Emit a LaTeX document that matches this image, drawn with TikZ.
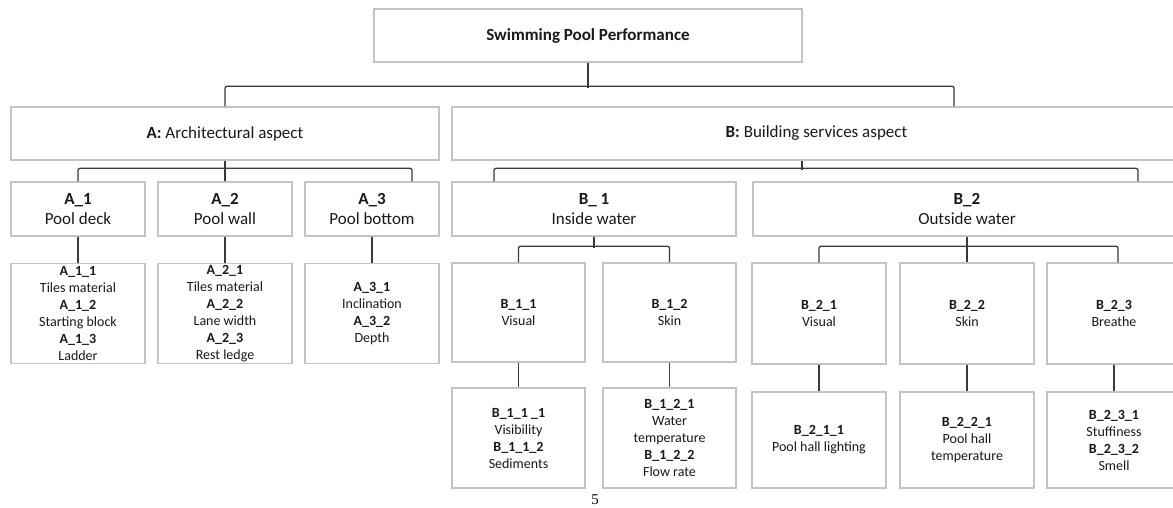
\documentclass[tikz,border=0pt]{standalone}
\usepackage{fontspec}
\setmainfont{Carlito}
\newfontfamily\numfont{Liberation Serif}
\usepackage{tikz}

\definecolor{boxgray}{HTML}{C4C4C4}
\definecolor{linkgray}{HTML}{3A3A3A}

\tikzset{
    box/.style={draw=boxgray, line width=1.4pt, inner sep=0pt, align=center, text=black!90},
    big/.style={box, font=\fontsize{17}{20}\selectfont},
    small/.style={box, font=\fontsize{14}{17}\selectfont},
    link/.style={draw=linkgray, line width=1.3pt, rounded corners=2pt},
}

\begin{document}
\begin{tikzpicture}[x=1pt, y=-1pt]
    \useasboundingbox (0,0) rectangle (1173,507);
    \fill[white] (0,0) rectangle (1173,507);
    \clip (0,0) rectangle (1173,507);

    % top
    \node[big, minimum width=428pt, minimum height=53pt] (root) at (588,35.5) {\textbf{Swimming Pool Performance}};

    % aspects
    \node[big, minimum width=428pt, minimum height=53pt] (A) at (225,133.5) {\textbf{A:} Architectural aspect};
    \node[big, minimum width=729pt, minimum height=53pt] (B) at (816.5,133.5) {\textbf{B:} Building services aspect};

    % A parts
    \node[big, minimum width=134pt, minimum height=54pt] (A1) at (78,209) {\textbf{A\_1}\\Pool deck};
    \node[big, minimum width=134pt, minimum height=54pt] (A2) at (225,209) {\textbf{A\_2}\\Pool wall};
    \node[big, minimum width=134pt, minimum height=54pt] (A3) at (372,209) {\textbf{A\_3}\\Pool bottom};

    % B parts
    \node[big, minimum width=284pt, minimum height=54pt] (B1) at (594,209) {\textbf{B\_ 1}\\Inside water};
    \node[big, minimum width=428pt, minimum height=54pt] (B2) at (967,209) {\textbf{B\_2}\\Outside water};

    % A items
    \node[small, minimum width=134pt, minimum height=100pt] (A11) at (78,313.5)
        {\textbf{A\_1\_1}\\Tiles material\\\textbf{A\_1\_2}\\Starting block\\\textbf{A\_1\_3}\\Ladder};
    \node[small, minimum width=134pt, minimum height=100pt] (A21) at (225,313.5)
        {\textbf{A\_2\_1}\\Tiles material\\\textbf{A\_2\_2}\\Lane width\\\textbf{A\_2\_3}\\Rest ledge};
    \node[small, minimum width=134pt, minimum height=100pt] (A31) at (372,313.5)
        {\textbf{A\_3\_1}\\Inclination\\\textbf{A\_3\_2}\\Depth};

    % B senses
    \node[small, minimum width=133pt, minimum height=99pt] (B11) at (518.5,312.5) {\textbf{B\_1\_1}\\Visual};
    \node[small, minimum width=133pt, minimum height=99pt] (B12) at (669.5,312.5) {\textbf{B\_1\_2}\\Skin};
    \node[small, minimum width=134pt, minimum height=101pt] (B21) at (819,313.5) {\textbf{B\_2\_1}\\Visual};
    \node[small, minimum width=134pt, minimum height=101pt] (B22) at (967,313.5) {\textbf{B\_2\_2}\\Skin};
    \node[small, minimum width=134pt, minimum height=101pt] (B23) at (1114,313.5) {\textbf{B\_2\_3}\\Breathe};

    % B items
    \node[small, minimum width=133pt, minimum height=100pt] (B111) at (518.5,438)
        {\textbf{B\_1\_1 \_1}\\Visibility\\\textbf{B\_1\_1\_2}\\Sediments};
    \node[small, minimum width=133pt, minimum height=100pt] (B121) at (669.5,438)
        {\textbf{B\_1\_2\_1}\\Water\\temperature\\\textbf{B\_1\_2\_2}\\Flow rate};
    \node[small, minimum width=134pt, minimum height=96pt] (B211) at (819,440)
        {\textbf{B\_2\_1\_1}\\Pool hall lighting};
    \node[small, minimum width=134pt, minimum height=96pt] (B221) at (967,440)
        {\textbf{B\_2\_2\_1}\\Pool hall\\temperature};
    \node[small, minimum width=134pt, minimum height=96pt] (B231) at (1114,440)
        {\textbf{B\_2\_3\_1}\\Stuffiness\\\textbf{B\_2\_3\_2}\\Smell};

    \node[font=\numfont\fontsize{15}{18}\selectfont] (pagenum) at (595,500) {5};

    % links
    \draw[link] (root.south) -- ++(0,25);
    \draw[link] (A.north) -- ++(0,-20) -| (B.north -| 954,0);

    \draw[link] (A.south) -- (A2.north);
    \draw[link] (A1.north) -- ++(0,-13) -| (A3.north -| 412,0);
    \draw[link] (B.south -| 802,0) -- ++(0,9);
    \draw[link] (B1.north -| 494,0) -- ++(0,-13) -| (B2.north -| 1138,0);

    \draw[link] (B1.south) -- ++(0,11);
    \draw[link] (B11.north) -- ++(0,-16) -| (B12.north);
    \draw[link] (B2.south) -- (B22.north);
    \draw[link] (B21.north) -- ++(0,-16) -| (B23.north -| 1118,0);

    \foreach \a/\b in {A1/A11, A2/A21, A3/A31, B11/B111, B12/B121, B21/B211, B22/B221, B23/B231}
        \draw[link] (\a.south) -- (\b.north);
\end{tikzpicture}
\end{document}
